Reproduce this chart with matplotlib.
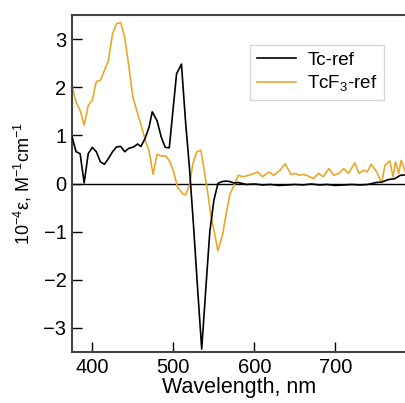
import matplotlib
matplotlib.use("Agg")
import matplotlib.pyplot as plt

plt.rcParams['font.family'] = ['Liberation Sans', 'DejaVu Sans']
plt.rcParams['mathtext.fontset'] = 'custom'
plt.rcParams['mathtext.rm'] = 'Liberation Sans'
plt.rcParams['mathtext.it'] = 'Liberation Sans'

tc_x = [375, 380, 385, 390, 395, 400, 405, 410, 415, 420, 425, 430, 435, 440, 445, 451,
        456, 460, 465, 470, 474, 480, 485, 490, 495, 504, 510, 515, 520, 525, 530, 535,
        540, 545, 550, 555, 560, 565, 570, 575, 580, 590, 600, 610, 620, 630, 640, 650,
        660, 670, 680, 690, 700, 710, 720, 730, 740, 750, 757, 765, 773, 780, 787]
tc_y = [0.97, 0.66, 0.62, 0.01, 0.62, 0.75, 0.66, 0.45, 0.40, 0.52, 0.66, 0.76, 0.77, 0.66, 0.73, 0.76,
        0.82, 0.77, 0.93, 1.17, 1.49, 1.30, 0.97, 0.75, 0.74, 2.28, 2.48, 1.30, 0.30, -0.90, -2.20, -3.44,
        -2.20, -1.00, -0.35, 0.00, 0.04, 0.05, 0.04, 0.01, 0.02, -0.02, -0.01, -0.03, -0.02, -0.04, -0.03, -0.02,
        -0.03, -0.01, -0.03, -0.02, -0.04, -0.03, -0.02, -0.03, -0.02, 0.02, 0.03, 0.08, 0.10, 0.17, 0.18]

tcf_x = [375, 380, 385, 390, 395, 400, 405, 410, 415, 420, 425, 430, 435, 440, 445, 450,
         456, 461, 466, 470, 475, 480, 485, 491, 496, 501, 505, 512, 515, 520, 524, 529,
         534, 542, 546, 555, 561, 566, 570, 575, 580, 586, 593, 600, 604, 610, 618, 624,
         632, 638, 645, 651, 655, 661, 667, 673, 679, 685, 692, 698, 704, 710, 716, 724,
         729, 735, 739, 744, 751, 757, 761, 767, 771, 774, 778, 781, 787]
tcf_y = [2.02, 1.69, 1.52, 1.21, 1.62, 1.73, 2.12, 2.14, 2.35, 2.56, 3.11, 3.32, 3.34, 3.04, 2.45, 1.80,
         1.45, 1.17, 0.86, 0.69, 0.19, 0.61, 0.57, 0.57, 0.45, 0.21, -0.07, -0.22, -0.24, -0.03, 0.41, 0.66,
         0.69, -0.14, -0.62, -1.40, -1.04, -0.55, -0.21, -0.04, 0.17, 0.14, 0.17, 0.21, 0.24, 0.14, 0.24, 0.17,
         0.28, 0.41, 0.19, 0.21, 0.17, 0.19, 0.15, 0.10, 0.21, 0.14, 0.31, 0.17, 0.21, 0.31, 0.21, 0.43,
         0.21, 0.28, 0.24, 0.40, 0.24, 0.00, 0.38, 0.47, 0.14, 0.45, 0.21, 0.48, 0.21]

fig = plt.figure(figsize=(4.06, 4.03), dpi=100)
ax = fig.add_axes([72/406, 1-352/403, 1-72/406, (352-15)/403])

ax.axhline(0, color='black', lw=1.0, zorder=1)
ax.plot(tc_x, tc_y, color='black', lw=1.2, label='Tc-ref', zorder=3)
ax.plot(tcf_x, tcf_y, color='#E8A82B', lw=1.2, label='TcF$_3$-ref', zorder=2)

ax.set_xlim(375, 787)
ax.set_ylim(-3.5, 3.5)
ax.set_xticks([400, 500, 600, 700])
ax.set_yticks([-3, -2, -1, 0, 1, 2, 3])
ax.tick_params(direction='in', length=7, width=1, labelsize=14.5, colors='black', pad=4)
for s in ['left', 'bottom', 'top']:
    ax.spines[s].set_color('#444444')
    ax.spines[s].set_linewidth(1.5)
ax.spines['right'].set_visible(False)

ax.set_xlabel('Wavelength, nm', fontsize=15.5, labelpad=0)
ax.set_ylabel('10$^{-4}$ε, M$^{-1}$cm$^{-1}$', fontsize=13, labelpad=7)

leg = ax.legend(loc='upper left', bbox_to_anchor=((250-72)/334, 1 - (45-15)/337), bbox_transform=ax.transAxes,
                prop={'size': 13.5}, frameon=True, fancybox=False, handlelength=2.1, borderpad=0.35,
                labelspacing=0.25, handletextpad=0.6, borderaxespad=0)
leg.get_frame().set_edgecolor('#cccccc')
leg.get_frame().set_linewidth(1.0)

fig.savefig('out.png', dpi=100)
